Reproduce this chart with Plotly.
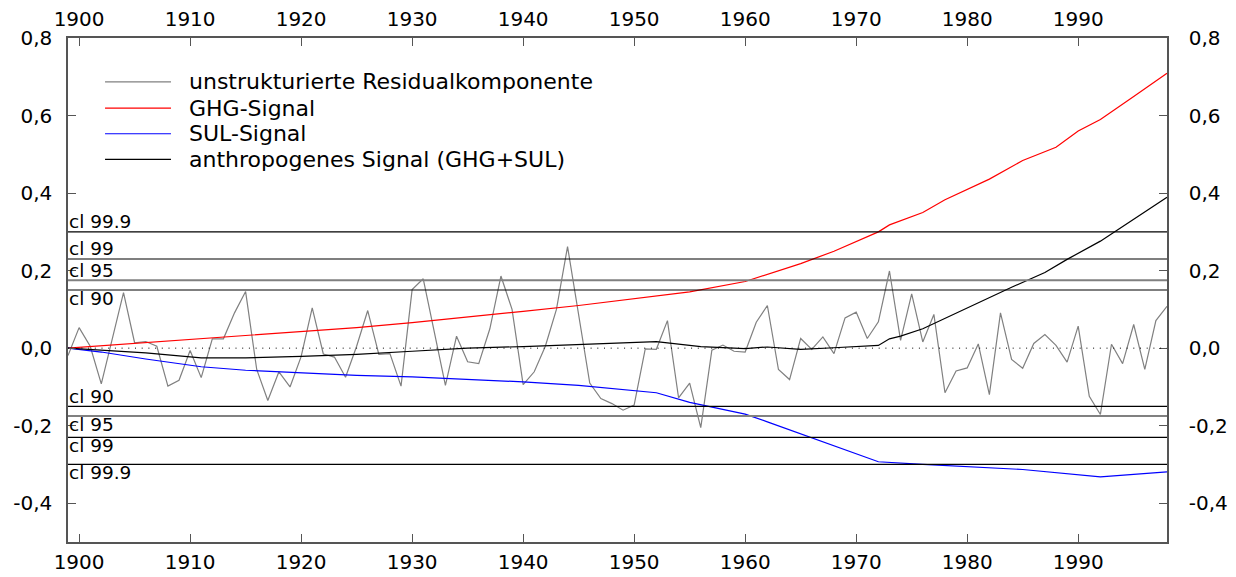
import plotly.graph_objects as go

# ---------------- data ----------------
years = list(range(1899, 1999))
residual = [
    -0.019, 0.053, 0.005, -0.092, 0.025, 0.143, 0.014, 0.017, 0.005, -0.098,
    -0.083, -0.006, -0.076, 0.024, 0.024, 0.091, 0.146, -0.055, -0.135, -0.061,
    -0.100, -0.022, 0.104, -0.015, -0.023, -0.075, 0.005, 0.097, -0.016, -0.014,
    -0.098, 0.151, 0.179, 0.040, -0.096, 0.031, -0.035, -0.040, 0.050, 0.186,
    0.100, -0.094, -0.061, 0.005, 0.100, 0.262, 0.090, -0.090, -0.130, -0.143,
    -0.160, -0.147, -0.002, -0.003, 0.071, -0.128, -0.090, -0.205, -0.005, 0.008,
    -0.008, -0.010, 0.067, 0.110, -0.055, -0.081, 0.025, -0.003, 0.029, -0.014,
    0.078, 0.093, 0.025, 0.068, 0.199, 0.020, 0.140, 0.016, 0.087, -0.115,
    -0.059, -0.051, 0.011, -0.120, 0.091, -0.029, -0.052, 0.012, 0.035, 0.007,
    -0.036, 0.057, -0.124, -0.171, 0.010, -0.040, 0.061, -0.055, 0.071, 0.108,
]

ghg_years = [1899, 1905, 1910, 1915, 1920, 1925, 1930, 1935, 1940, 1945, 1950,
             1955, 1960, 1965, 1968, 1972, 1973, 1976, 1978, 1980, 1982, 1985,
             1988, 1990, 1992, 1995, 1998]
ghg = [0.0, 0.012, 0.022, 0.032, 0.042, 0.053, 0.066, 0.080, 0.095, 0.110, 0.127,
       0.145, 0.172, 0.218, 0.250, 0.300, 0.318, 0.350, 0.383, 0.409, 0.436, 0.484,
       0.518, 0.560, 0.590, 0.649, 0.709]

sul_years = [1899, 1902, 1906, 1911, 1915, 1920, 1925, 1930, 1935, 1940, 1945,
             1952, 1955, 1960, 1962, 1966, 1972, 1976, 1980, 1985, 1992, 1998]
sul = [0.0, -0.010, -0.028, -0.048, -0.057, -0.064, -0.070, -0.074, -0.080, -0.087,
       -0.096, -0.115, -0.140, -0.170, -0.190, -0.232, -0.293, -0.300, -0.305,
       -0.313, -0.332, -0.319]

anth_years = [1899, 1902, 1906, 1911, 1915, 1920, 1925, 1930, 1935, 1940, 1945,
              1952, 1956, 1960, 1962, 1965, 1968, 1972, 1973, 1974, 1976, 1979,
              1982, 1984, 1987, 1989, 1992, 1995, 1998]
anth = [0.0, -0.005, -0.012, -0.025, -0.025, -0.021, -0.016, -0.008, 0.0, 0.004,
        0.010, 0.017, 0.004, -0.001, 0.003, -0.003, 0.001, 0.007, 0.024, 0.031,
        0.050, 0.090, 0.132, 0.157, 0.195, 0.229, 0.276, 0.332, 0.389]

series_names = ["unstrukturierte Residualkomponente", "GHG-Signal", "SUL-Signal",
                "anthropogenes Signal (GHG+SUL)"]

cl_labels = ["cl 99.9", "cl 99", "cl 95", "cl 90", "cl 90", "cl 95", "cl 99", "cl 99.9"]
cl_values = [0.30, 0.23, 0.175, 0.15, -0.15, -0.175, -0.23, -0.30]
cl_above = [True, True, True, False, True, False, False, False]

x_ticks = [1900, 1910, 1920, 1930, 1940, 1950, 1960, 1970, 1980, 1990]
y_ticks = [-0.4, -0.2, 0.0, 0.2, 0.4, 0.6, 0.8]
y_ticktext = ["-0,4", "-0,2", "0,0", "0,2", "0,4", "0,6", "0,8"]
zero_level = 0.0

# ---------------- styling ----------------
FONT = "DejaVu Sans"
colors = ["#808080", "#ff0000", "#0000ff", "#000000"]
AXC = "#555555"

fig = go.Figure()
fig.add_trace(go.Scatter(x=years, y=residual, mode="lines",
                         line=dict(color=colors[0], width=1.2), name=series_names[0]))
fig.add_trace(go.Scatter(x=ghg_years, y=ghg, mode="lines",
                         line=dict(color=colors[1], width=1.2), name=series_names[1]))
fig.add_trace(go.Scatter(x=sul_years, y=sul, mode="lines",
                         line=dict(color=colors[2], width=1.2), name=series_names[2]))
fig.add_trace(go.Scatter(x=anth_years, y=anth, mode="lines",
                         line=dict(color=colors[3], width=1.2), name=series_names[3]))
# invisible trace to activate the mirrored axes
fig.add_trace(go.Scatter(x=[years[0], years[-1]], y=[zero_level, zero_level],
                         xaxis="x2", yaxis="y2", mode="lines",
                         line=dict(width=0), hoverinfo="skip", showlegend=False))

shapes = []
for v, lab in zip(cl_values, cl_labels):
    is95 = lab == "cl 95"
    shapes.append(dict(type="line", xref="paper", yref="y", x0=0, x1=1, y0=v, y1=v,
                       line=dict(color="#808080" if is95 else "#000000",
                                 width=2 if is95 else 1.2)))
shapes.append(dict(type="line", xref="paper", yref="y", x0=0, x1=1,
                   y0=zero_level, y1=zero_level,
                   line=dict(color="#000000", width=1, dash="1px,5.7px")))

annotations = []
for v, lab, above in zip(cl_values, cl_labels, cl_above):
    annotations.append(dict(x=0, xref="paper", y=v, yref="y", text=lab,
                            xanchor="left", yanchor="middle", showarrow=False,
                            xshift=-1, yshift=10 if above else -8,
                            font=dict(family=FONT, size=18.5, color="black")))

# manual legend
leg_y = [0.913, 0.861, 0.810, 0.759]
for i, (nm, c) in enumerate(zip(series_names, colors)):
    shapes.append(dict(type="line", xref="paper", yref="paper",
                       x0=0.0337, x1=0.0937, y0=leg_y[i], y1=leg_y[i],
                       line=dict(color=c, width=1.2)))
    annotations.append(dict(x=0.108, xref="paper", y=leg_y[i], yref="paper", text=nm,
                            xanchor="left", yanchor="middle", showarrow=False,
                            font=dict(family=FONT, size=22, color="black")))

axis_common = dict(showgrid=False, zeroline=False, showline=True, linecolor=AXC,
                   linewidth=1.5, ticks="inside", tickcolor=AXC, tickwidth=1.2,
                   automargin=False,
                   tickfont=dict(family=FONT, size=20, color="black"))

fig.update_layout(
    width=1236, height=577,
    margin=dict(l=68, r=69, t=38, b=35),
    paper_bgcolor="white", plot_bgcolor="white",
    showlegend=False,
    shapes=shapes, annotations=annotations,
    xaxis=dict(range=[1899, 1998], tickvals=x_ticks, ticklen=8,
               ticklabelstandoff=1, **axis_common),
    xaxis2=dict(range=[1899, 1998], tickvals=x_ticks, ticklen=8, overlaying="x",
                side="top", anchor="y", ticklabelstandoff=2, **axis_common),
    yaxis=dict(range=[-0.5, 0.8], tickvals=y_ticks, ticktext=y_ticktext, ticklen=8,
               ticklabelstandoff=10, **axis_common),
    yaxis2=dict(range=[-0.5, 0.8], tickvals=y_ticks, ticktext=y_ticktext, ticklen=8,
                overlaying="y", side="right", anchor="x", ticklabelstandoff=16,
                **axis_common),
)

fig.write_html("out.html")
